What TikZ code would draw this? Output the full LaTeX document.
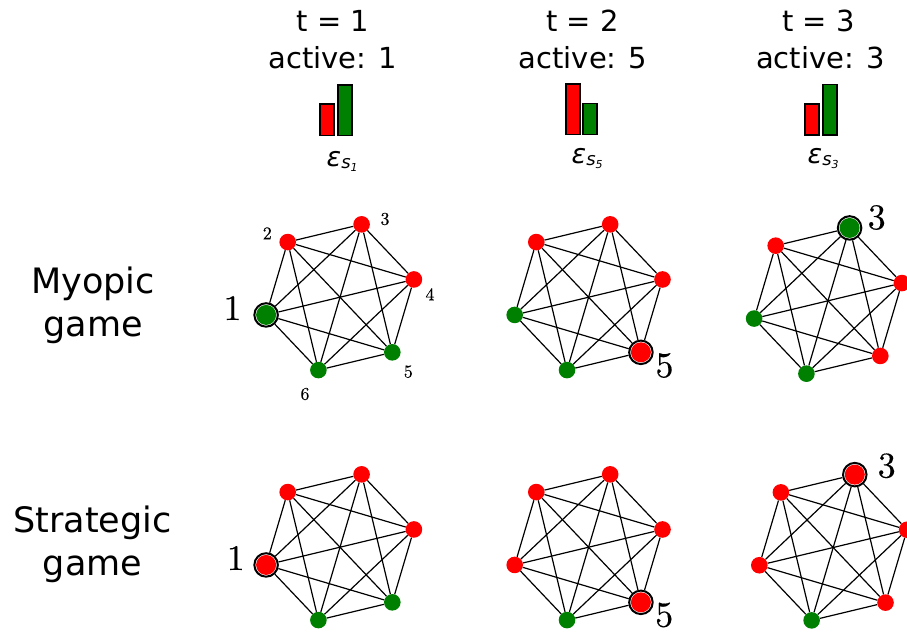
\documentclass[tikz,border=0pt]{standalone}
\usepackage{fontspec}
\newfontfamily\dvs{DejaVu Sans}
\newfontfamily\numfont{lmroman10-regular.otf}[FakeBold=0.25]
\definecolor{nred}{RGB}{255,0,0}
\definecolor{ngreen}{RGB}{0,128,0}
\tikzset{
  dot/.style={circle, inner sep=0pt, minimum size=16.6pt, fill=#1},
  ringnode/.style={circle, inner sep=0pt, minimum size=23.5pt, draw=black, line width=2pt, fill=white,
    path picture={\fill[#1] (path picture bounding box.center) circle (10pt);}},
  edge/.style={draw=black, line width=1.2pt},
  bar/.style={draw=black, line width=1.3pt},
  hdr/.style={font=\dvs\fontsize{29}{29}\selectfont, inner sep=0pt, anchor=base},
  side/.style={font=\dvs\fontsize{35}{35}\selectfont, inner sep=0pt, anchor=base},
  biglab/.style={font=\numfont\fontsize{36}{36}\selectfont, inner sep=0pt},
  smalllab/.style={font=\numfont\fontsize{18}{18}\selectfont, inner sep=0pt},
  epslab/.style={inner sep=0pt, anchor=base west}
}
\newcommand{\hexgraph}[5]{%
  \foreach \k/\c in {#5}{%
    \pgfmathsetmacro{\ang}{193.5-60*(\k-1)}%
    \ifnum\k=#4\relax
      \node[ringnode=\c] (#1n\k) at ({#2+76*cos(\ang)},{#3-76*sin(\ang)}) {};
    \else
      \node[dot=\c] (#1n\k) at ({#2+76*cos(\ang)},{#3-76*sin(\ang)}) {};
    \fi
  }%
  \foreach \i in {1,...,5}{%
    \pgfmathtruncatemacro{\s}{\i+1}%
    \foreach \j in {\s,...,6}{\draw[edge] (#1n\i) -- (#1n\j);}%
  }%
}
\newcommand{\epstext}[1]{{\dvs\itshape\fontsize{27}{27}\selectfont ε\fontsize{18}{18}\selectfont\raisebox{-2pt}{s\fontsize{11}{11}\selectfont\raisebox{-3pt}{#1}}}}
\begin{document}
\begin{tikzpicture}[x=1pt,y=-1pt]
\useasboundingbox (0,0) rectangle (907,632);
% headers
\node[hdr] (t1) at (333,31.7) {t = 1};
\node[hdr] (a1) at (333,68.3) {active: 1};
\node[hdr] (t2) at (582.5,31.7) {t = 2};
\node[hdr] (a2) at (583,68.3) {active: 5};
\node[hdr] (t3) at (818.5,31.7) {t = 3};
\node[hdr] (a3) at (820.5,68.3) {active: 3};
% bars
\draw[bar, fill=nred] (320,104) rectangle (334,135.5);
\draw[bar, fill=ngreen] (338,85) rectangle (352,135.5);
\draw[bar, fill=nred] (566,84) rectangle (580,134.5);
\draw[bar, fill=ngreen] (583,103.5) rectangle (597,134.5);
\draw[bar, fill=nred] (805,104) rectangle (819,135);
\draw[bar, fill=ngreen] (823,84.5) rectangle (837,135);
% epsilon labels
\node[epslab] (e1) at (326.5,166) {\epstext{1}};
\node[epslab] (e2) at (571.5,163) {\epstext{5}};
\node[epslab] (e3) at (807.5,163) {\epstext{3}};
% side labels
\node[side] (my1) at (93,293) {Myopic};
\node[side] (my2) at (93,336) {game};
\node[side] (st1) at (92.5,532) {Strategic};
\node[side] (st2) at (92.5,575) {game};
% graphs
\hexgraph{ga}{340}{297.2}{1}{1/ngreen,2/nred,3/nred,4/nred,5/ngreen,6/ngreen}
\hexgraph{gb}{588.6}{297.2}{5}{1/ngreen,2/nred,3/nred,4/nred,5/nred,6/ngreen}
\hexgraph{gc}{828}{300.8}{3}{1/ngreen,2/nred,3/ngreen,4/nred,5/nred,6/ngreen}
\hexgraph{gd}{340}{547.2}{1}{1/nred,2/nred,3/nred,4/nred,5/ngreen,6/ngreen}
\hexgraph{ge}{588.6}{547.2}{5}{1/nred,2/nred,3/nred,4/nred,5/nred,6/ngreen}
\hexgraph{gf}{833.2}{547.5}{3}{1/nred,2/nred,3/nred,4/nred,5/nred,6/ngreen}
% small labels
\node[smalllab] (l2) at (267.3,233.3) {2};
\node[smalllab] (l3) at (385,219) {3};
\node[smalllab] (l4) at (430,294.3) {4};
\node[smalllab] (l5) at (408.3,371.7) {5};
\node[smalllab] (l6) at (305,394) {6};
% big labels
\node[biglab] (b1) at (232.5,308) {1};
\node[biglab] (b2) at (664.5,365.5) {5};
\node[biglab] (b3) at (876.7,217.5) {3};
\node[biglab] (b4) at (235.8,558) {1};
\node[biglab] (b5) at (664.2,615) {5};
\node[biglab] (b6) at (886.7,465.8) {3};
\end{tikzpicture}
\end{document}
